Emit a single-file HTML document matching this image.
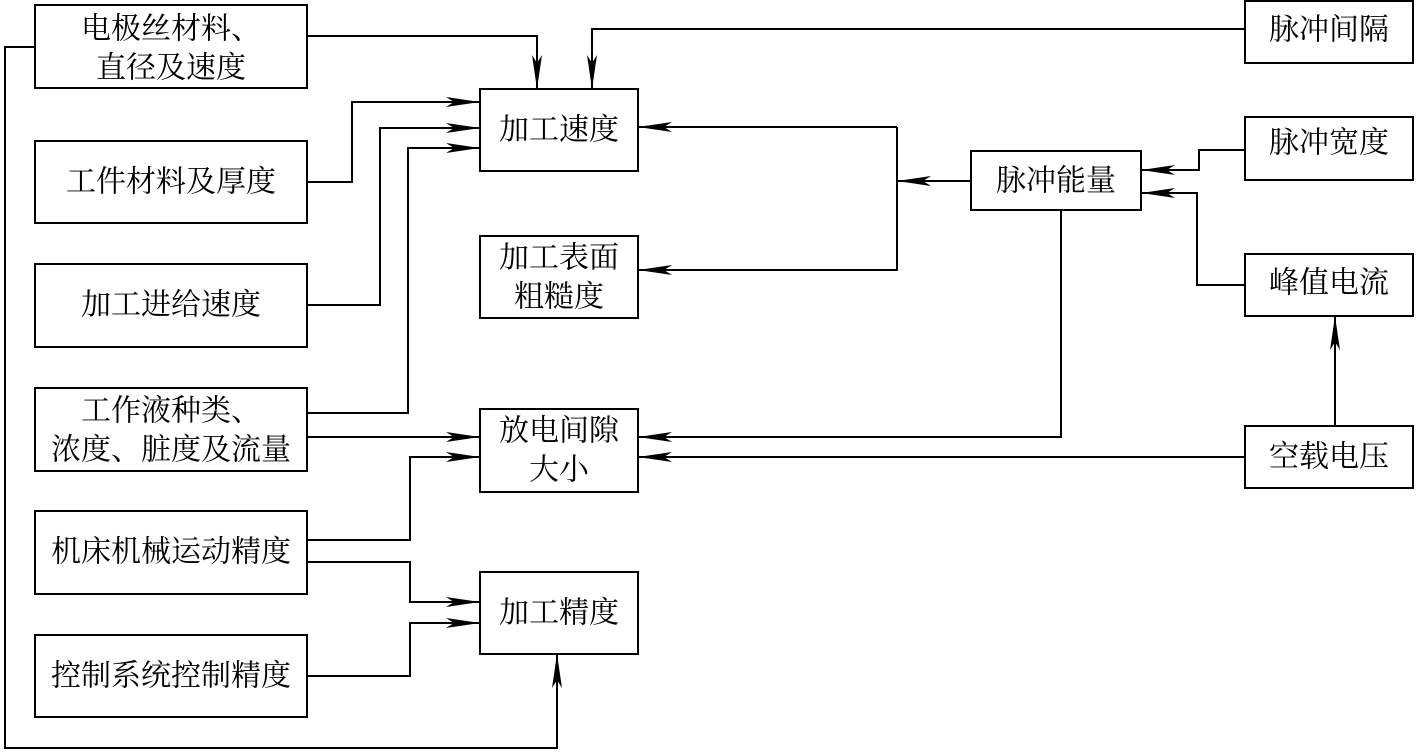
<!DOCTYPE html>
<html><head><meta charset="utf-8"><style>
html,body{margin:0;padding:0;background:#fff;}
svg{display:block;}
text{font-family:"Liberation Serif","Noto Serif CJK SC",serif;font-size:30px;fill:#000;text-anchor:middle;dominant-baseline:central;}
</style></head><body>
<svg width="1417" height="752" viewBox="0 0 1417 752">
<defs>
<marker id="a" markerWidth="34" markerHeight="12" refX="34" refY="6" orient="auto" markerUnits="userSpaceOnUse">
<path d="M0,1 L34,6 L0,11 L8,6 Z" fill="#000"/>
</marker>
</defs>
<g fill="none" stroke="#000" stroke-width="2">
<rect x="35" y="5" width="272" height="83"/>
<rect x="35" y="141" width="272" height="82"/>
<rect x="35" y="264" width="272" height="83"/>
<rect x="35" y="388" width="272" height="83"/>
<rect x="35" y="511" width="272" height="83"/>
<rect x="35" y="635" width="272" height="82"/>
<rect x="480" y="89" width="158" height="82"/>
<rect x="480" y="236" width="158" height="82"/>
<rect x="480" y="409" width="158" height="83"/>
<rect x="480" y="572" width="158" height="82"/>
<rect x="971" y="151" width="170" height="59"/>
<rect x="1245" y="1" width="168" height="62"/>
<rect x="1245" y="117" width="168" height="63"/>
<rect x="1245" y="254" width="168" height="62"/>
<rect x="1245" y="426" width="168" height="62"/>
</g>
<g fill="none" stroke="#000" stroke-width="2">
<polyline points="35,47 5,47 5,748 557,748 557,654" marker-end="url(#a)"/>
<polyline points="307,36 537,36 537,89" marker-end="url(#a)"/>
<polyline points="1245,29 592,29 592,89" marker-end="url(#a)"/>
<polyline points="307,182 352,182 352,102 480,102" marker-end="url(#a)"/>
<polyline points="307,305 380,305 380,128 480,128" marker-end="url(#a)"/>
<polyline points="307,413 408,413 408,148 480,148" marker-end="url(#a)"/>
<polyline points="307,437 480,437" marker-end="url(#a)"/>
<polyline points="307,540 410,540 410,457 480,457" marker-end="url(#a)"/>
<polyline points="307,562 410,562 410,602 480,602" marker-end="url(#a)"/>
<polyline points="307,676 410,676 410,623 480,623" marker-end="url(#a)"/>
<polyline points="971,181 897,181" marker-end="url(#a)"/>
<polyline points="897,127 638,127" marker-end="url(#a)"/>
<polyline points="897,127 897,270 638,270" marker-end="url(#a)"/>
<polyline points="1061,210 1061,437 638,437" marker-end="url(#a)"/>
<polyline points="1245,457 638,457" marker-end="url(#a)"/>
<polyline points="1335,426 1335,316" marker-end="url(#a)"/>
<polyline points="1245,150 1199,150 1199,170 1141,170" marker-end="url(#a)"/>
<polyline points="1245,285 1197,285 1197,193 1141,193" marker-end="url(#a)"/>
</g>
<text x="171" y="29">电极丝材料、</text>
<text x="171" y="68">直径及速度</text>
<text x="171" y="182">工件材料及厚度</text>
<text x="171" y="305">加工进给速度</text>
<text x="171" y="411">工作液种类、</text>
<text x="171" y="450">浓度、脏度及流量</text>
<text x="171" y="552">机床机械运动精度</text>
<text x="171" y="676">控制系统控制精度</text>
<text x="559" y="130">加工速度</text>
<text x="559" y="258">加工表面</text>
<text x="559" y="297">粗糙度</text>
<text x="559" y="431">放电间隙</text>
<text x="559" y="470">大小</text>
<text x="559" y="613">加工精度</text>
<text x="1056" y="181">脉冲能量</text>
<text x="1329" y="30">脉冲间隔</text>
<text x="1329" y="143">脉冲宽度</text>
<text x="1329" y="283">峰值电流</text>
<text x="1329" y="457">空载电压</text>
</svg>
</body></html>
